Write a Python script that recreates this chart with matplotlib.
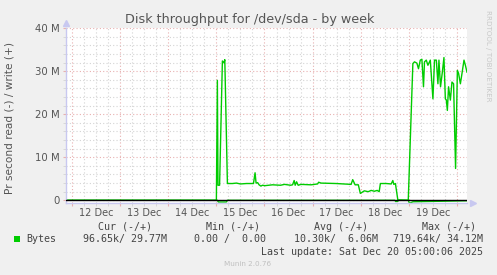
import numpy as np
import matplotlib
matplotlib.use("Agg")
import matplotlib.pyplot as plt
import matplotlib.transforms as mtransforms
from matplotlib.patches import Rectangle
from matplotlib.ticker import MultipleLocator, FuncFormatter

# hours since 12 Dec 00:00 ; values in M (10^6 bytes per second)
write_hours = [-3, 72.0, 72.5, 72.8, 73.6, 75.0, 75.8, 76.2, 77.5, 80, 82, 84, 87, 90.5,
               91.3, 91.8, 92.6, 93.3, 94.2, 95.0, 96.2, 100, 104, 106, 109, 110,
               110.8, 111.3, 112, 112.8, 114.2, 119.2, 122.5, 123, 124.2, 131.7, 139.2,
               140, 141.2, 142.8, 143.8, 145.8, 147.7, 149.2, 150.8, 152.2, 153.2, 153.8,
               156.7, 159.2, 160, 160.5, 161.3, 162.5, 167.7, 170, 170.8, 172, 172.8,
               173.7, 174.5, 175.3, 175.8, 176.7, 177.5, 178.7, 180, 180.8, 181.7, 182.5,
               183, 183.8, 184.7, 185.5, 186.2, 186.7, 187.2, 187.8, 188.7, 189.5, 190.3,
               191.3, 192.2, 192.8, 193.7, 194.5, 195.5, 196.2, 197]
write_mb = [0, 0, 27.9, 3.5, 3.5, 32.4, 32.0, 32.7, 3.9, 3.9, 4.0, 3.8, 3.9, 3.9,
            6.4, 4.0, 4.1, 3.6, 3.3, 3.5, 3.4, 3.6, 3.5, 3.7, 3.5, 3.6,
            4.6, 3.5, 4.3, 3.5, 3.7, 3.6, 3.8, 4.2, 4.0, 3.9, 3.7,
            4.8, 3.6, 3.6, 1.6, 2.2, 2.0, 2.3, 2.1, 2.3, 2.0, 3.9,
            3.9, 3.8, 4.6, 3.7, 3.9, 0.1, 0, 31.8, 32.2, 31.9, 30.6,
            32.6, 32.8, 26.4, 32.2, 32.6, 31.4, 32.6, 23.6, 32.6, 32.6, 27.1,
            32.6, 26.4, 29.8, 33.2, 23.6, 23.3, 20.9, 26.4, 23.3, 27.5, 27.1,
            7.4, 30.2, 29.5, 27.1, 29.5, 32.6, 31.4, 29.8]

read_hours = [-3, 72.5, 73.0, 77.0, 77.5, 161.0, 161.5, 162.5, 163.0, 167.7, 168.3, 170.0, 197]
read_mb = [0, 0, 0.4, 0.4, 0, 0, 0.3, 0.2, 0, 0, 0.7, 0.35, 0.1]

day_labels = ["12 Dec", "13 Dec", "14 Dec", "15 Dec", "16 Dec", "17 Dec", "18 Dec", "19 Dec"]

legend_heads = ["Cur (-/+)", "Min (-/+)", "Avg (-/+)", "Max (-/+)"]
legend_vals = ["96.65k/ 29.77M", "0.00 /  0.00", "10.30k/  6.06M", "719.64k/ 34.12M"]

W, H = 497, 275
fig = plt.figure(figsize=(W / 100, H / 100), dpi=100, facecolor="#f0f0f0")
ax = fig.add_axes([66 / W, 1 - 203.3 / H, 401 / W, 175 / H])
ax.set_facecolor("white")

green = "#00cc00"
ax.plot(write_hours, write_mb, color=green, lw=1.0, zorder=2)
ax.plot(read_hours, [-v for v in read_mb], color=green, lw=1.0, zorder=2)
ax.axhline(0, color="black", lw=1, zorder=3)

ax.set_xlim(-3, 197)
ax.set_ylim(-0.7, 40)

ax.xaxis.set_major_locator(MultipleLocator(24))
ax.xaxis.set_minor_locator(MultipleLocator(6))
ax.yaxis.set_major_locator(MultipleLocator(10))
ax.yaxis.set_minor_locator(MultipleLocator(2))
ax.xaxis.set_major_formatter(FuncFormatter(lambda v, p: ""))
ax.yaxis.set_major_formatter(FuncFormatter(lambda v, p: "0" if v == 0 else f"{v:g} M"))

ax.grid(which="major", color="#e8b0b0", linestyle=(0, (1, 2)), lw=0.8)
ax.grid(which="minor", color="#d4d4d4", linestyle=(0, (1, 2)), lw=0.8)
ax.set_axisbelow(True)

ax.tick_params(which="major", axis="x", direction="out", length=2.5, color="#e8b0b0")
ax.tick_params(which="minor", axis="x", direction="out", length=2, color="#d4d4d4")
ax.tick_params(which="major", axis="y", direction="out", length=2.5, color="#e8b0b0",
               labelsize=7.3, labelcolor="#555555", pad=2)
ax.tick_params(which="minor", axis="y", direction="out", length=2, color="#d4d4d4")

for s in ["top", "right"]:
    ax.spines[s].set_visible(False)
for s in ["left", "bottom"]:
    ax.spines[s].set_color("#c8c8f0")
    ax.spines[s].set_linewidth(1)
ax.plot([0], [1.03], marker="^", color="#c8c8f0", ms=4, transform=ax.transAxes, clip_on=False)
ax.plot([1.015], [0], marker=">", color="#c8c8f0", ms=4, transform=ax.transAxes, clip_on=False)

day_tr = mtransforms.blended_transform_factory(ax.transData, fig.transFigure)
for i, lab in enumerate(day_labels):
    ax.text(12 + 24 * i, 1 - 212.7 / H, lab, transform=day_tr,
            ha="center", va="center", fontsize=7, color="#555555")

fig.text(250 / W, 1 - 19 / H, "Disk throughput for /dev/sda - by week", ha="center", va="center",
         fontsize=9.2, color="#555555")
fig.text(10 / W, 1 - 118 / H, "Pr second read (-) / write (+)", rotation=90, ha="center",
         va="center", fontsize=7.6, color="#555555")
fig.text(488 / W, 1 - 56 / H, "RRDTOOL / TOBI OETIKER", rotation=270, ha="center", va="center",
         fontsize=5.1, color="#c8c8c8")

mono = "DejaVu Sans Mono"
head_x = [125, 233, 341.5, 449.5]
for hx, txt in zip(head_x, legend_heads):
    fig.text(hx / W, 1 - 226.7 / H, txt, ha="center", va="center", family=mono,
             fontsize=7.2, color="#444444")
val_right = [166.7, 266, 377.7, 482.7]
for vx, txt in zip(val_right, legend_vals):
    fig.text(vx / W, 1 - 239.3 / H, txt, ha="right", va="center", family=mono,
             fontsize=7.2, color="#444444")
fig.add_artist(Rectangle((14 / W, 1 - 242.3 / H), 6 / W, 6 / H, transform=fig.transFigure,
                         color=green, lw=0))
fig.text(26 / W, 1 - 239.3 / H, "Bytes", ha="left", va="center", family=mono,
         fontsize=7.2, color="#444444")
fig.text(482.7 / W, 1 - 251.7 / H, "Last update: Sat Dec 20 05:00:06 2025", ha="right",
         va="center", family=mono, fontsize=7.2, color="#444444")
fig.text(248 / W, 1 - 264 / H, "Munin 2.0.76", ha="center", va="center", fontsize=5.2,
         color="#c0c0c0")

fig.savefig("out.png", dpi=100, facecolor=fig.get_facecolor())
